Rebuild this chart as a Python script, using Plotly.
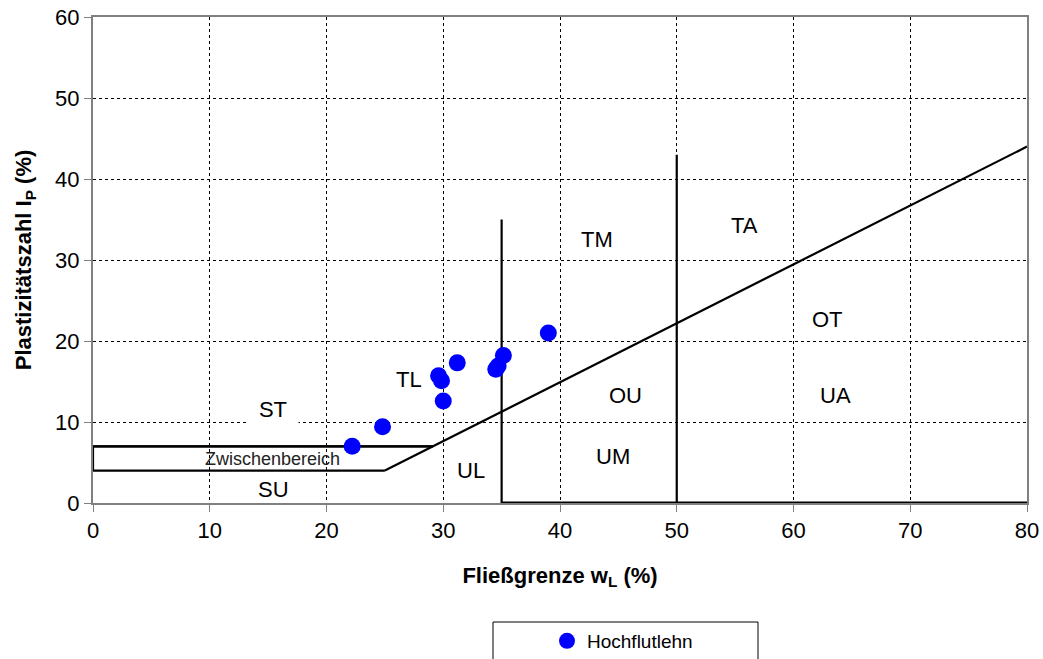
import plotly.graph_objects as go

# Data
wl = [22.2, 24.8, 29.6, 29.85, 30.0, 31.2, 34.5, 34.7, 35.15, 39.0]
ip = [7.0, 9.4, 15.7, 15.1, 12.6, 17.3, 16.5, 16.9, 18.2, 21.0]

x_ticks = [0, 10, 20, 30, 40, 50, 60, 70, 80]
y_ticks = [0, 10, 20, 30, 40, 50, 60]

# Boundary lines of the plasticity chart
a_line_x = [25, 80]
a_line_y = [4, 44]
zw_top_x = [0, 29.1]
zw_top_y = [7, 7]
zw_bot_x = [29.1, 0, 0, 25]
zw_bot_y = [7, 7, 4, 4]
v35_x = [35, 35]
v35_y = [0, 35]
v50_x = [50, 50]
v50_y = [0, 43]
base_x = [35, 80]
base_y = [0, 0]

labels = ["ST", "Zwischenbereich", "SU", "TL", "UL", "TM", "TA", "OT", "OU", "UA", "UM"]
label_x = [15.4, 15.4, 15.5, 27.1, 32.4, 43.2, 55.8, 62.9, 45.6, 63.6, 44.5]
label_y = [11.6, 5.4, 1.7, 15.3, 4.0, 32.5, 34.2, 22.7, 13.3, 13.3, 5.8]

FONT = "Liberation Sans, Arial, sans-serif"

fig = go.Figure()

line_style = dict(color="black", width=2.2)
for lx, ly in [(a_line_x, a_line_y), (zw_top_x, zw_top_y), (zw_bot_x, zw_bot_y),
               (v35_x, v35_y), (v50_x, v50_y)]:
    fig.add_trace(go.Scatter(x=lx, y=ly, mode="lines", line=line_style,
                             showlegend=False, hoverinfo="skip"))
fig.add_trace(go.Scatter(x=base_x, y=base_y, mode="lines",
                         line=dict(color="black", width=3),
                         showlegend=False, hoverinfo="skip", cliponaxis=False))

fig.add_trace(go.Scatter(x=wl, y=ip, mode="markers", name="Hochflutlehn",
                         marker=dict(color="#0000FF", size=17)))

for t, x, y in zip(labels, label_x, label_y):
    if t == "ST":
        fig.add_annotation(x=x, y=y, text=t, showarrow=False,
                           font=dict(family=FONT, size=22, color="black"),
                           bgcolor="white", width=48, height=34)
    elif t == "Zwischenbereich":
        fig.add_annotation(x=x, y=y, text=t, showarrow=False,
                           font=dict(family=FONT, size=18, color="#222222"))
    else:
        fig.add_annotation(x=x, y=y, text=t, showarrow=False,
                           font=dict(family=FONT, size=22, color="black"))

# legend box
fig.add_shape(type="rect", xref="paper", yref="paper",
              x0=(493 - 93) / 934, x1=(758 - 93) / 934,
              y0=(503 - 700) / 486, y1=(503 - 622) / 486,
              line=dict(color="black", width=1), fillcolor="white", layer="below")

axis_common = dict(showgrid=True, gridcolor="black", griddash="dot", gridwidth=1,
                   showline=True, linecolor="#808080", linewidth=2, mirror=True,
                   ticks="outside", ticklen=7, tickcolor="#808080", tickwidth=1,
                   zeroline=False, automargin=False,
                   tickfont=dict(family=FONT, size=22, color="black"))

fig.update_layout(
    width=1043, height=659,
    margin=dict(l=93, r=16, t=17, b=156, autoexpand=False),
    paper_bgcolor="white", plot_bgcolor="white",
    xaxis=dict(range=[0, 80], tickvals=x_ticks,
               title=dict(text="<b>Fließgrenze w<sub>L</sub> (%)</b>",
                          font=dict(family=FONT, size=22, color="black"), standoff=25),
               **axis_common),
    yaxis=dict(range=[0, 60], tickvals=y_ticks,
               title=dict(text="<b>Plastizitätszahl I<sub>P</sub> (%)</b>",
                          font=dict(family=FONT, size=22, color="black"), standoff=17),
               **axis_common),
    legend=dict(x=(547 - 93) / 934, y=(503 - 641) / 486, xanchor="left", yanchor="middle",
                bgcolor="rgba(0,0,0,0)", borderwidth=0,
                font=dict(family=FONT, size=19, color="black"),
                itemwidth=30),
    showlegend=True,
)

fig.write_html("out.html")
